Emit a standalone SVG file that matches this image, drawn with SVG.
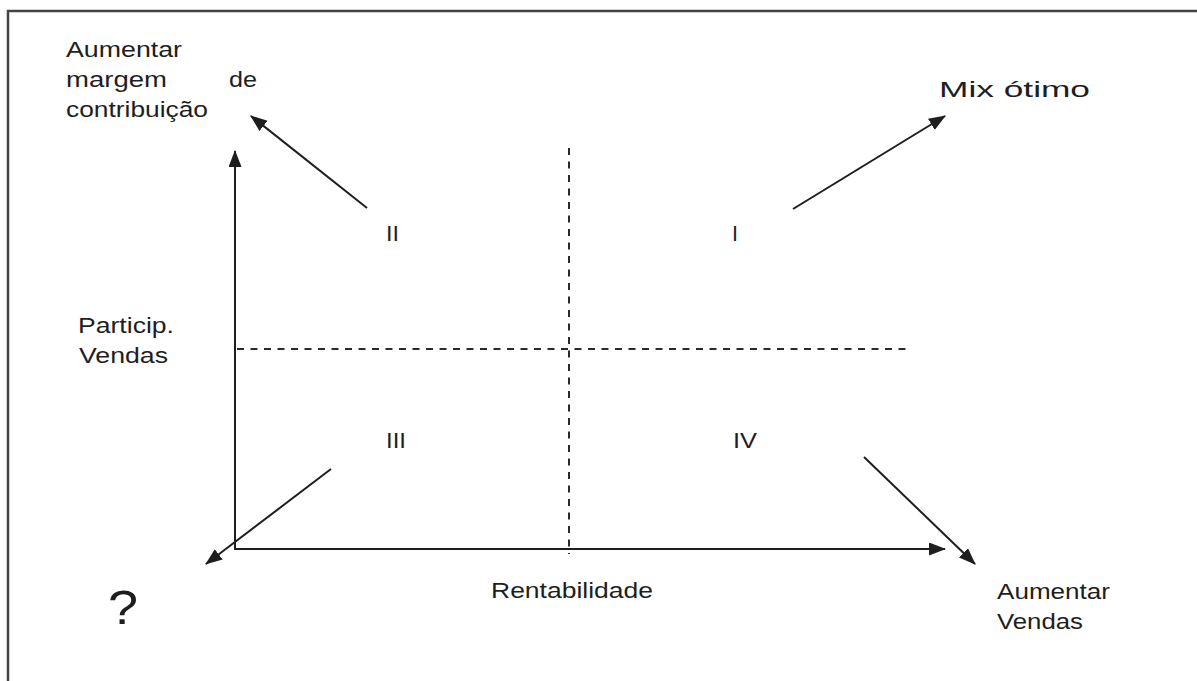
<svg xmlns="http://www.w3.org/2000/svg" width="1197" height="681" viewBox="0 0 1197 681">
<style>
  text { font-family: "Liberation Sans", Arial, sans-serif; font-size: 22px; fill: #1e1e1e; }
  .ln { stroke: #1e1e1e; stroke-width: 2; fill: none; }
  .dash { stroke: #2a2a2a; stroke-width: 2; stroke-dasharray: 7 6.5; fill: none; }
  .frame { stroke: #444; stroke-width: 2.5; fill: none; }
</style>
<defs>
  <marker id="ah" markerUnits="userSpaceOnUse" markerWidth="18" markerHeight="14" refX="16" refY="6.5" orient="auto">
    <path d="M0,0 L17,6.5 L0,13 z" fill="#1e1e1e"/>
  </marker>
</defs>
<rect width="1197" height="681" fill="#ffffff"/>
<path class="frame" d="M8,690 L8,11 L1200,11"/>

<g id="connectors">
  <line class="ln" x1="235" y1="550" x2="235" y2="151" marker-end="url(#ah)"/>
  <line class="ln" x1="234" y1="549" x2="945" y2="549" marker-end="url(#ah)"/>
  <line class="dash" x1="569" y1="148" x2="569" y2="554"/>
  <line class="dash" x1="237" y1="349" x2="910" y2="349"/>
  <line class="ln" x1="367" y1="208" x2="251" y2="116" marker-end="url(#ah)"/>
  <line class="ln" x1="793" y1="209" x2="945" y2="116" marker-end="url(#ah)"/>
  <line class="ln" x1="331" y1="469" x2="206" y2="564" marker-end="url(#ah)"/>
  <line class="ln" x1="864" y1="457" x2="975" y2="564" marker-end="url(#ah)"/>
</g>

<g id="label-margem">
  <text x="66" y="57" textLength="116" lengthAdjust="spacingAndGlyphs">Aumentar</text>
  <text x="66" y="87" textLength="101" lengthAdjust="spacingAndGlyphs">margem</text>
  <text x="229" y="87" textLength="28" lengthAdjust="spacingAndGlyphs">de</text>
  <text x="66" y="117" textLength="142" lengthAdjust="spacingAndGlyphs">contribuição</text>
</g>
<g id="label-mix">
  <text x="939" y="97" textLength="151" lengthAdjust="spacingAndGlyphs">Mix ótimo</text>
</g>
<g id="quadrant-II"><text x="386" y="241" textLength="13" lengthAdjust="spacingAndGlyphs">II</text></g>
<g id="quadrant-I"><text x="732" y="241" textLength="6" lengthAdjust="spacingAndGlyphs">I</text></g>
<g id="quadrant-III"><text x="386" y="448" textLength="20" lengthAdjust="spacingAndGlyphs">III</text></g>
<g id="quadrant-IV"><text x="733" y="448" textLength="24" lengthAdjust="spacingAndGlyphs">IV</text></g>
<g id="label-particip">
  <text x="78" y="333" textLength="96" lengthAdjust="spacingAndGlyphs">Particip.</text>
  <text x="79" y="363" textLength="89" lengthAdjust="spacingAndGlyphs">Vendas</text>
</g>
<g id="label-rentabilidade">
  <text x="491" y="598" textLength="162" lengthAdjust="spacingAndGlyphs">Rentabilidade</text>
</g>
<g id="label-question">
  <text x="108" y="624" style="font-size:48px" textLength="30" lengthAdjust="spacingAndGlyphs">?</text>
</g>
<g id="label-aumentar-vendas">
  <text x="997" y="599" textLength="113" lengthAdjust="spacingAndGlyphs">Aumentar</text>
  <text x="997" y="629" textLength="86" lengthAdjust="spacingAndGlyphs">Vendas</text>
</g>
</svg>
